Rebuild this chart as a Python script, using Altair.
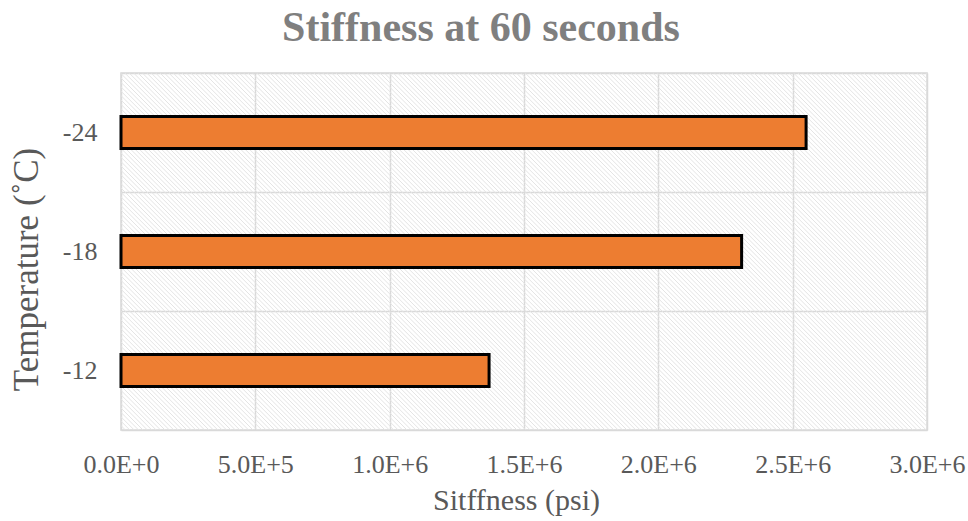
import altair as alt
import pandas as pd

# Stiffness measured at 60 seconds for each test temperature
temperatures = ["-24", "-18", "-12"]
stiffness_psi = [2.55e6, 2.31e6, 1.37e6]
x_ticks = [0, 5e5, 1e6, 1.5e6, 2e6, 2.5e6, 3e6]

PLOT_W, PLOT_H = 806, 357
FONT = "Liberation Serif"
GRID = "#d9d9d9"
TEXT = "#595959"

df = pd.DataFrame({"Temperature": temperatures, "Stiffness": stiffness_psi})

# Diagonal hatch texture for the plot background
hatch = (
    alt.Chart(alt.sequence(-PLOT_H, PLOT_W, 4.4, as_="s"))
    .transform_calculate(x0="datum.s", x1="datum.s + %d" % PLOT_H)
    .mark_rule(color="#e4e4e4", strokeWidth=1, clip=True)
    .encode(
        x=alt.X("x0:Q", scale=alt.Scale(domain=[0, PLOT_W], nice=False, zero=False), axis=None),
        x2="x1:Q",
        y=alt.value(0),
        y2=alt.value(PLOT_H),
    )
)

bars = (
    alt.Chart(df)
    .mark_bar(
        color="#ED7D31",
        stroke="black",
        strokeWidth=3,
        height=alt.RelativeBandSize(band=0.27),
    )
    .encode(
        x=alt.X(
            "Stiffness:Q",
            scale=alt.Scale(domain=[0, 3e6], nice=False),
            axis=alt.Axis(
                title="Sitffness (psi)",
                values=x_ticks,
                labelExpr="upper(format(datum.value, '.1e'))",
                labelFlush=False,
                grid=True,
                ticks=False,
                domain=False,
                labelPadding=21,
                titlePadding=8,
                titleFontSize=30,
                titleX=395,
            ),
        ),
        y=alt.Y(
            "Temperature:N",
            sort=temperatures,
            scale=alt.Scale(paddingInner=0, paddingOuter=0),
            axis=alt.Axis(
                title="Temperature (˚C)",
                grid=True,
                tickBand="extent",
                ticks=False,
                domain=False,
                labelPadding=24,
                titlePadding=18,
                titleFontSize=35,
                titleY=196,
            ),
        ),
    )
)

chart = (
    alt.layer(hatch, bars)
    .resolve_scale(x="independent", y="independent")
    .properties(
        width=PLOT_W,
        height=PLOT_H,
        autosize=alt.AutoSizeParams(type="none"),
        padding={"left": 121, "top": 73, "right": 41, "bottom": 91},
        title=alt.TitleParams(
            "Stiffness at 60 seconds",
            font=FONT,
            fontSize=42,
            fontWeight="bold",
            color="#7f7f7f",
            anchor="middle",
            frame="group",
            dx=-43,
            dy=54,
            baseline="bottom",
            offset=22,
        ),
    )
    .configure_view(stroke=GRID, strokeWidth=1.5)
    .configure_axis(
        gridColor=GRID,
        gridWidth=1.5,
        labelFont=FONT,
        labelFontSize=26,
        labelColor=TEXT,
        titleFont=FONT,
        titleFontWeight="normal",
        titleColor=TEXT,
    )
)

chart.save("out.html", embed_options={"renderer": "svg", "actions": False})
